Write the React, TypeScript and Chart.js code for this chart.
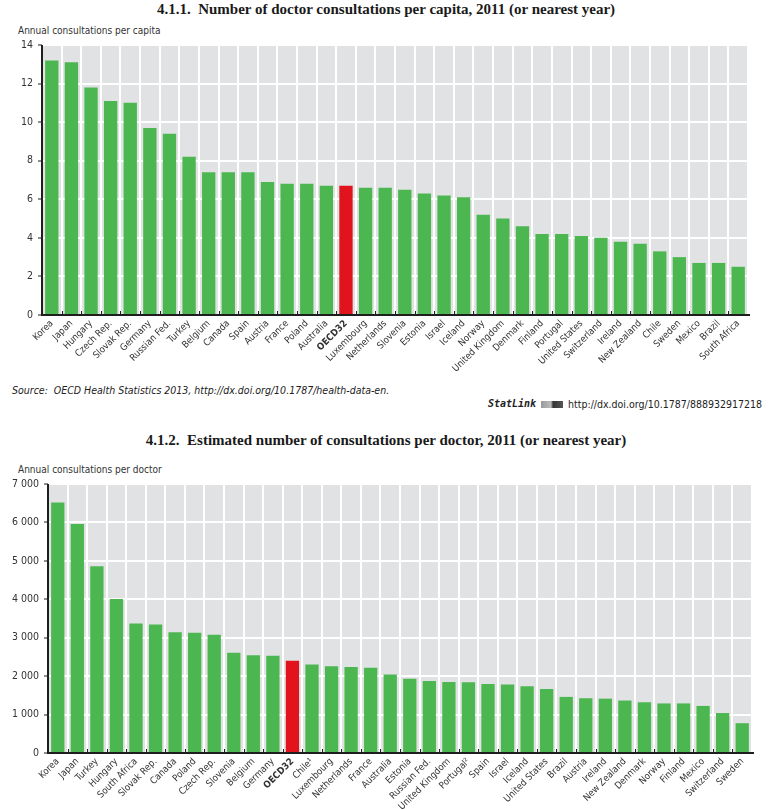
import React, { useEffect, useRef } from "react";
import { Chart, registerables } from "chart.js";

Chart.register(...registerables);

// ---------- Data ----------
const countriesPerCapita = [
  "Korea", "Japan", "Hungary", "Czech Rep.", "Slovak Rep.", "Germany", "Russian Fed.", "Turkey",
  "Belgium", "Canada", "Spain", "Austria", "France", "Poland", "Australia", "OECD32",
  "Luxembourg", "Netherlands", "Slovenia", "Estonia", "Israel", "Iceland", "Norway",
  "United Kingdom", "Denmark", "Finland", "Portugal", "United States", "Switzerland",
  "Ireland", "New Zealand", "Chile", "Sweden", "Mexico", "Brazil", "South Africa",
];
const consultationsPerCapita = [
  13.2, 13.1, 11.8, 11.1, 11.0, 9.7, 9.4, 8.2,
  7.4, 7.4, 7.4, 6.9, 6.8, 6.8, 6.7, 6.7,
  6.6, 6.6, 6.5, 6.3, 6.2, 6.1, 5.2,
  5.0, 4.6, 4.2, 4.2, 4.1, 4.0,
  3.8, 3.7, 3.3, 3.0, 2.7, 2.7, 2.5,
];
const yTicksPerCapita = { min: 0, max: 14, step: 2 };

const countriesPerDoctor = [
  "Korea", "Japan", "Turkey", "Hungary", "South Africa", "Slovak Rep.", "Canada", "Poland",
  "Czech Rep.", "Slovenia", "Belgium", "Germany", "OECD32", "Chile\u00B9", "Luxembourg",
  "Netherlands", "France", "Australia", "Estonia", "Russian Fed.", "United Kingdom",
  "Portugal\u00B2", "Spain", "Israel", "Iceland", "United States", "Brazil", "Austria",
  "Ireland", "New Zealand", "Denmark", "Norway", "Finland", "Mexico", "Switzerland", "Sweden",
];
const consultationsPerDoctor = [
  6520, 5960, 4860, 4010, 3370, 3345, 3140, 3130,
  3080, 2610, 2545, 2530, 2400, 2305, 2260, 2235,
  2220, 2040, 1935, 1875, 1850,
  1840, 1795, 1785, 1735, 1665, 1460, 1425,
  1415, 1365, 1320, 1290, 1290, 1225, 1040, 775,
];
const yTicksPerDoctor = { min: 0, max: 7000, step: 1000 };

// ---------- Styles ----------
const GREEN = "#4cb750";
const RED = "#e1141e";
const PLOT_BG = "#e1e2e4";
const AXIS = "#1e1e1e";
const TEXT = "#333333";
const NARROW = '"Liberation Sans Narrow", "DejaVu Sans Condensed", "Noto Sans", sans-serif';
const SERIF = '"Liberation Serif", "DejaVu Serif", serif';

const plotDecor = {
  id: "plotDecor",
  beforeDraw(chart: any) {
    const { ctx, chartArea: a } = chart;
    ctx.save();
    ctx.fillStyle = PLOT_BG;
    ctx.fillRect(a.left, a.top, a.right - a.left, a.bottom - a.top);
    ctx.restore();
  },
  afterDatasetsDraw(chart: any) {
    const { ctx, chartArea: a } = chart;
    const xs = chart.scales.x;
    const n = chart.data.labels.length;
    ctx.save();
    ctx.strokeStyle = AXIS;
    ctx.lineWidth = 1;
    for (let i = 1; i < n; i++) {
      const px = Math.round((xs.getPixelForValue(i - 1) + xs.getPixelForValue(i)) / 2) + 0.5;
      ctx.beginPath();
      ctx.moveTo(px, a.bottom);
      ctx.lineTo(px, a.bottom - 4);
      ctx.stroke();
    }
    ctx.lineWidth = 2;
    ctx.beginPath();
    ctx.moveTo(a.left, a.top);
    ctx.lineTo(a.left, a.bottom);
    ctx.lineTo(a.right + 2, a.bottom);
    ctx.stroke();
    ctx.restore();
  },
};

function fmtThousands(v: number) {
  return String(v).replace(/\B(?=(\d{3})+(?!\d))/g, " ");
}

type BarProps = {
  labels: string[];
  values: number[];
  yRange: { min: number; max: number; step: number };
  top: number;
  height: number;
  padTop: number;
  padRight: number;
  yWidth: number;
  xHeight: number;
  thousands?: boolean;
};

function BarChart(p: BarProps) {
  const ref = useRef<HTMLCanvasElement | null>(null);
  useEffect(() => {
    if (!ref.current) return;
    const colors = p.labels.map((l) => (l === "OECD32" ? RED : GREEN));
    const chart = new Chart(ref.current, {
      type: "bar",
      data: {
        labels: p.labels,
        datasets: [
          {
            data: p.values,
            backgroundColor: colors,
            borderWidth: 0,
            categoryPercentage: 1,
            barPercentage: 0.68,
          },
        ],
      },
      options: {
        responsive: false,
        animation: false,
        layout: { padding: { top: p.padTop, right: p.padRight, left: 0, bottom: 0 } },
        plugins: { legend: { display: false }, tooltip: { enabled: false } },
        scales: {
          x: {
            grid: { offset: true, color: "#ffffff", lineWidth: 2, drawTicks: false },
            border: { display: false },
            ticks: {
              autoSkip: false,
              minRotation: 45,
              maxRotation: 45,
              padding: 3,
              color: TEXT,
              font: (ctx: any) => ({
                family: NARROW,
                size: 9.5,
                weight: p.labels[ctx.index] === "OECD32" ? "bold" : "normal",
              }),
            },
            afterFit: (s: any) => {
              s.height = p.xHeight;
            },
          },
          y: {
            min: p.yRange.min,
            max: p.yRange.max,
            grid: {
              color: "#ffffff",
              lineWidth: 2,
              drawTicks: true,
              tickLength: 4,
              tickColor: AXIS,
              tickWidth: 1,
            },
            border: { display: false },
            ticks: {
              stepSize: p.yRange.step,
              padding: 5,
              color: TEXT,
              font: { family: NARROW, size: 10.5 },
              callback: (v: any) => (p.thousands ? fmtThousands(Number(v)) : String(v)),
            },
            afterFit: (s: any) => {
              s.width = p.yWidth;
            },
          },
        },
      },
      plugins: [plotDecor],
    });
    return () => chart.destroy();
  }, []);
  return (
    <canvas
      ref={ref}
      width={772}
      height={p.height}
      style={{ position: "absolute", left: 0, top: p.top, width: 772, height: p.height }}
    />
  );
}

const titleStyle: React.CSSProperties = {
  position: "absolute",
  left: 0,
  width: 772,
  textAlign: "center",
  fontFamily: SERIF,
  fontWeight: "bold",
  fontSize: 15,
  color: "#1a1a1a",
  lineHeight: "18px",
  whiteSpace: "nowrap",
};
const yLabelStyle: React.CSSProperties = {
  position: "absolute",
  left: 18,
  fontFamily: NARROW,
  fontSize: 10,
  color: TEXT,
  lineHeight: "13px",
  whiteSpace: "nowrap",
};

export default function App() {
  useEffect(() => {
    document.body.style.margin = "0";
  }, []);
  return (
    <div style={{ position: "relative", width: 772, height: 810, background: "#fff", overflow: "hidden" }}>
      <div style={{ ...titleStyle, top: 0 }}>
        4.1.1.&nbsp; Number of doctor consultations per capita, 2011 (or nearest year)
      </div>
      <div style={{ ...yLabelStyle, top: 24 }}>Annual consultations per capita</div>
      <BarChart
        labels={countriesPerCapita}
        values={consultationsPerCapita}
        yRange={yTicksPerCapita}
        top={0}
        height={378}
        padTop={45}
        padRight={24}
        yWidth={42}
        xHeight={63}
      />
      <div
        style={{
          position: "absolute",
          left: 12,
          top: 383,
          fontFamily: NARROW,
          fontStyle: "italic",
          fontSize: 10.5,
          color: "#222",
          whiteSpace: "nowrap",
          lineHeight: "14px",
        }}
      >
        Source:&nbsp; OECD Health Statistics 2013, http://dx.doi.org/10.1787/health-data-en.
      </div>
      <div
        style={{
          position: "absolute",
          right: 10,
          top: 397,
          fontFamily: NARROW,
          fontSize: 10.5,
          color: "#222",
          whiteSpace: "nowrap",
          lineHeight: "14px",
          display: "flex",
          alignItems: "center",
          gap: 5,
        }}
      >
        <span style={{ fontFamily: '"DejaVu Sans Mono", monospace', fontStyle: "italic", fontWeight: "bold", fontSize: 10 }}>
          StatLink
        </span>
        <span
          style={{
            display: "inline-block",
            width: 22,
            height: 7,
            background: "linear-gradient(90deg, #999 0%, #bbb 45%, #333 55%, #555 100%)",
          }}
        />
        <span>http://dx.doi.org/10.1787/888932917218</span>
      </div>
      <div style={{ ...titleStyle, top: 431 }}>
        4.1.2.&nbsp; Estimated number of consultations per doctor, 2011 (or nearest year)
      </div>
      <div style={{ ...yLabelStyle, top: 463 }}>Annual consultations per doctor</div>
      <BarChart
        labels={countriesPerDoctor}
        values={consultationsPerDoctor}
        yRange={yTicksPerDoctor}
        top={420}
        height={390}
        padTop={64}
        padRight={20}
        yWidth={48}
        xHeight={57}
        thousands
      />
    </div>
  );
}
